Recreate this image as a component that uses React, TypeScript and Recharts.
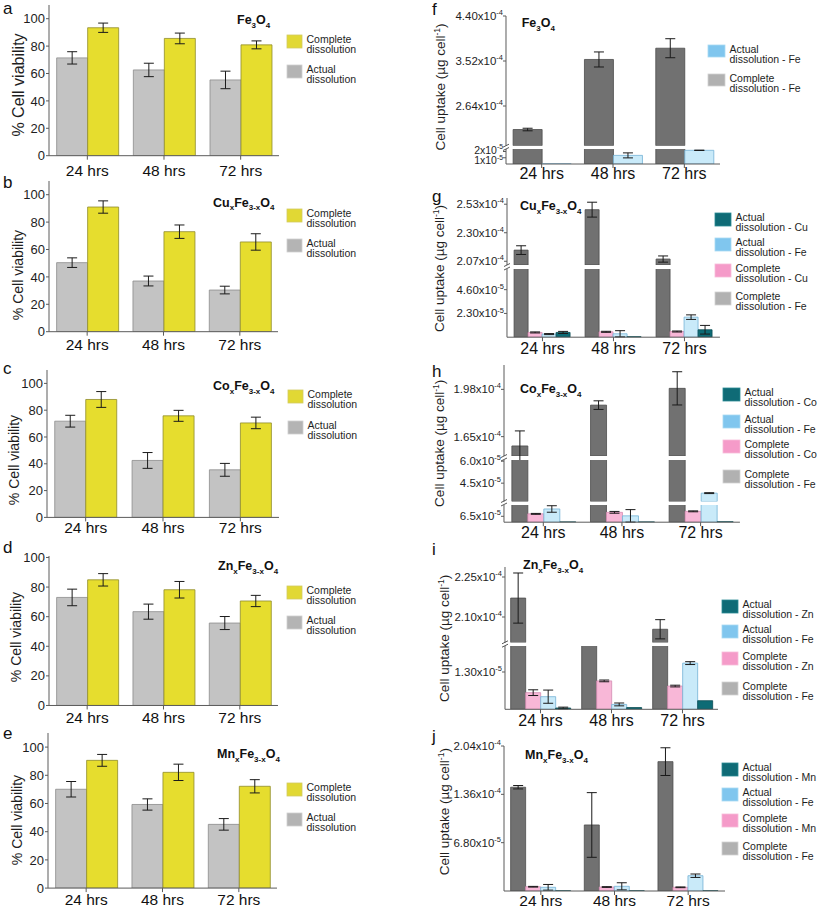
import { BarChart, Bar, XAxis, YAxis, ErrorBar } from "recharts"

const FONT = '"Liberation Sans", Arial, Helvetica, sans-serif'

const hours = ["24 hrs", "48 hrs", "72 hrs"]

// % cell viability, panels a-e
const viabilityTicks = [0, 20, 40, 60, 80, 100]

const aActual = [71.4, 62.6, 55.3]
const aActualErr = [4.5, 4.9, 6.4]
const aComplete = [93.4, 85.6, 80.9]
const aCompleteErr = [3.4, 3.9, 2.9]

const bActual = [50.4, 37.0, 30.4]
const bActualErr = [3.5, 3.6, 2.8]
const bComplete = [91.0, 73.0, 65.5]
const bCompleteErr = [4.5, 4.9, 6.0]

const cActual = [71.8, 42.5, 35.5]
const cActualErr = [4.4, 5.9, 4.8]
const cComplete = [88.0, 75.8, 70.5]
const cCompleteErr = [5.9, 4.1, 4.3]

const dActual = [73.0, 63.4, 55.7]
const dActualErr = [5.6, 5.1, 4.4]
const dComplete = [84.9, 78.2, 70.6]
const dCompleteErr = [4.2, 5.6, 3.8]

const eActual = [70.1, 59.3, 45.2]
const eActualErr = [5.5, 4.0, 4.1]
const eComplete = [90.6, 82.1, 72.2]
const eCompleteErr = [4.2, 5.8, 4.7]

// cell uptake (µg cell-1), panels f-j
const fCompleteFe = [2.18e-4, 3.55e-4, 3.77e-4]
const fCompleteFeErr = [0.025e-4, 0.147e-4, 0.186e-4]
const fActualFe = [0.03e-5, 1.38e-5, 2.19e-5]
const fActualFeErr = [0, 0.4e-5, 0.03e-5]
const fUpperTicks = [2.64e-4, 3.52e-4, 4.4e-4]
const fUpperLabels = [["2.64", "-4"], ["3.52", "-4"], ["4.40", "-4"]]
const fLowerTicks = [1e-5, 2e-5]
const fLowerLabels = [["1", "-5"], ["2", "-5"]]

const gCompleteFe = [2.16e-4, 2.486e-4, 2.088e-4]
const gCompleteFeErr = [0.035e-4, 0.06e-4, 0.025e-4]
const gCompleteCu = [0.46e-5, 0.52e-5, 0.55e-5]
const gCompleteCuErr = [0.05e-5, 0.05e-5, 0.05e-5]
const gActualFe = [0.3e-5, 0.33e-5, 1.94e-5]
const gActualFeErr = [0.05e-5, 0.3e-5, 0.22e-5]
const gActualCu = [0.46e-5, 0.05e-5, 0.72e-5]
const gActualCuErr = [0.1e-5, 0, 0.42e-5]
const gUpperTicks = [2.07e-4, 2.3e-4, 2.53e-4]
const gUpperLabels = [["2.07", "-4"], ["2.30", "-4"], ["2.53", "-4"]]
const gLowerTicks = [2.3e-5, 4.6e-5]
const gLowerLabels = [["2.30", "-5"], ["4.60", "-5"]]

const hCompleteFe = [1.585e-4, 1.87e-4, 1.987e-4]
const hCompleteFeErr = [0.105e-4, 0.03e-4, 0.116e-4]
const hCompleteCo = [0.92e-5, 1.09e-5, 1.2e-5]
const hCompleteCoErr = [0.05e-5, 0.1e-5, 0.05e-5]
const hActualFe = [1.46e-5, 0.7e-5, 3.82e-5]
const hActualFeErr = [0.36e-5, 0.69e-5, 0.03e-5]
const hActualCo = [0.03e-5, 0.03e-5, 0.05e-5]
const hActualCoErr = [0, 0, 0]
const hUpperTicks = [1.65e-4, 1.98e-4]
const hUpperLabels = [["1.65", "-4"], ["1.98", "-4"]]
const hMiddleTicks = [4.5e-5, 6.0e-5]
const hMiddleLabels = [["4.5", "-5"], ["6.0", "-5"]]
const hLowerTicks = [6.5e-6]
const hLowerLabels = [["6.5", "-5"]]

const iCompleteFe = [2.171e-4, 1.5e-4, 2.054e-4]
const iCompleteFeErr = [0.094e-4, 0, 0.036e-4]
const iCompleteZn = [0.58e-5, 0.99e-5, 0.81e-5]
const iCompleteZnErr = [0.1e-5, 0.03e-5, 0.03e-5]
const iActualFe = [0.44e-5, 0.17e-5, 1.61e-5]
const iActualFeErr = [0.23e-5, 0.05e-5, 0.05e-5]
const iActualZn = [0.045e-5, 0.06e-5, 0.3e-5]
const iActualZnErr = [0.03e-5, 0, 0]
const iUpperTicks = [2.1e-4, 2.25e-4]
const iUpperLabels = [["2.10", "-4"], ["2.25", "-4"]]
const iLowerTicks = [1.3e-5]
const iLowerLabels = [["1.30", "-5"]]

const jCompleteFe = [1.46e-4, 0.929e-4, 1.82e-4]
const jCompleteFeErr = [0.024e-4, 0.455e-4, 0.195e-4]
const jCompleteMn = [0.06e-4, 0.056e-4, 0.052e-4]
const jCompleteMnErr = [0.005e-4, 0.005e-4, 0.005e-4]
const jActualFe = [0.052e-4, 0.066e-4, 0.215e-4]
const jActualFeErr = [0.04e-4, 0.05e-4, 0.024e-4]
const jActualMn = [0.003e-4, 0.003e-4, 0.003e-4]
const jActualMnErr = [0, 0, 0]
const jTicks = [6.8e-5, 1.36e-4, 2.04e-4]
const jLabels = [["6.80", "-5"], ["1.36", "-4"], ["2.04", "-4"]]

const COL = {
  viaGray: "#c3c3c3",
  viaGrayEdge: "#8c8c8c",
  viaYellow: "#e6dd2e",
  viaYellowEdge: "#8f8b2c",
  upGray: "#717171",
  upGrayEdge: "#4c4c4c",
  pink: "#f8b7d7",
  pinkEdge: "#d48db2",
  blue: "#c9eaf9",
  blueEdge: "#74b3d5",
  teal: "#0d6b75",
  tealEdge: "#0a4b53",
  axis: "#5a5a5a",
  text: "#1e1e1e",
}

const FE3O4 = [["Fe", 0], ["3", 1], ["O", 0], ["4", 1]]
const mixed = (m: string) => [[m, 0], ["x", 1], ["Fe", 0], ["3-x", 1], ["O", 0], ["4", 1]]

type Series = { key: string; values: number[]; errors: number[]; fill: string; stroke: string }
type Seg = {
  top: number
  bottom: number
  domain: [number, number]
  ticks: number[]
  labels?: string[][]
  labelDy?: number[]
  fontSize?: number
}

function segRows(series: Series[], seg: Seg) {
  const [lo, hi] = seg.domain
  return hours.map((hour, i) => {
    const row: any = { hour }
    series.forEach((s) => {
      const v = s.values[i]
      row[s.key] = v > lo ? v : null
      row[s.key + "Err"] = v > lo && v <= hi && s.errors[i] > 0 ? s.errors[i] : undefined
    })
    return row
  })
}

function SciTick({ x, y, payload, seg }: any) {
  const i = seg.ticks.findIndex((t: number) => Math.abs(t - payload.value) < 1e-12)
  const lab = seg.labels[i]
  if (!lab) return null
  const fs = seg.fontSize || 11.5
  const shift = seg.labelDy ? seg.labelDy[i] : 0
  return (
    <text x={x} y={y + shift} dy={fs * 0.35} textAnchor="end" fontSize={fs} fontFamily={FONT} fill={COL.text}>
      {lab[0]}x10
      <tspan dy={-fs * 0.43} fontSize={fs * 0.65}>{lab[1]}</tspan>
    </text>
  )
}

function SegChart({ seg, series, axisX, right, gap, last, tickGap, xFont }: any) {
  const mt = 12
  const mb = last ? 0 : 4
  const xh = last ? 30 : 0
  const plotH = seg.bottom - seg.top
  return (
    <div style={{ position: "absolute", left: 0, top: seg.top - mt }}>
      <BarChart
        width={right + 12}
        height={mt + plotH + xh + mb}
        data={segRows(series, seg)}
        margin={{ top: mt, right: 12, bottom: mb, left: 0 }}
        barGap={0}
        barCategoryGap={gap}
      >
        <XAxis
          dataKey="hour"
          hide={!last}
          height={xh}
          tickSize={4}
          tickMargin={tickGap - 4}
          axisLine={{ stroke: COL.axis }}
          tickLine={{ stroke: COL.axis }}
          tick={{ fill: "#111", fontSize: xFont, fontFamily: FONT }}
          interval={0}
        />
        <YAxis
          type="number"
          width={axisX}
          domain={seg.domain}
          allowDataOverflow
          ticks={seg.ticks}
          interval={0}
          tickSize={3}
          tickMargin={seg.labels ? 0 : 1}
          axisLine={{ stroke: COL.axis }}
          tickLine={{ stroke: COL.axis }}
          tick={seg.labels ? (p: any) => <SciTick {...p} seg={seg} /> : { fill: COL.text, fontSize: 13, fontFamily: FONT }}
        />
        {series.map((s: Series) => (
          <Bar key={s.key} dataKey={s.key} fill={s.fill} stroke={s.stroke} strokeWidth={0.8} isAnimationActive={false}>
            <ErrorBar dataKey={s.key + "Err"} width={5} strokeWidth={1} stroke="#1a1a1a" direction="y" />
          </Bar>
        ))}
      </BarChart>
    </div>
  )
}

function Formula({ x, y, parts }: any) {
  let sub = 0
  return (
    <text x={x} y={y} fontWeight="bold" fontSize={12.5} fontFamily={FONT} fill="#111">
      {parts.map(([t, s]: any, i: number) => {
        const dy = s === sub ? 0 : s ? 3.5 : -3.5
        sub = s
        return (
          <tspan key={i} dy={dy} fontSize={s ? 8 : 12.5}>
            {t}
          </tspan>
        )
      })}
    </text>
  )
}

function LegendBlock({ x, tops, items, sw, sh }: any) {
  return (
    <g>
      {items.map((it: any, i: number) => (
        <g key={i}>
          <rect x={x} y={tops[i]} width={sw} height={sh} fill={it.fill} stroke={it.stroke} strokeWidth={0.8} />
          <text x={x + sw + 4.5} y={tops[i] + 7.6} fontSize={10.5} fontFamily={FONT} fill={COL.text}>
            {it.lines[0]}
          </text>
          <text x={x + sw + 4.5} y={tops[i] + 18.2} fontSize={10.5} fontFamily={FONT} fill={COL.text}>
            {it.lines[1]}
          </text>
        </g>
      ))}
    </g>
  )
}

const viaLegend = [
  { lines: ["Complete", "dissolution"], fill: "#e1d834", stroke: "#d2cb62" },
  { lines: ["Actual", "dissolution"], fill: "#b4b4b4", stroke: "#d0d0d0" },
]

const viabilityPanels = [
  { letter: "a", formula: FE3O4, actual: aActual, actualErr: aActualErr, complete: aComplete, completeErr: aCompleteErr, axisX: 49, right: 279, y0: 156, y100: 19, max: 110, tickGap: 9, letterY: 13.5, labelX: 18, labelY: 85, labelSize: 16, titleX: 237, titleY: 24, legendX: 287, legendTops: [35, 65] },
  { letter: "b", formula: mixed("Cu"), actual: bActual, actualErr: bActualErr, complete: bComplete, completeErr: bCompleteErr, axisX: 49, right: 278, y0: 332, y100: 195, max: 110, tickGap: 7, letterY: 188, labelX: 18.5, labelY: 275, labelSize: 14, titleX: 213, titleY: 206.5, legendX: 287, legendTops: [209, 239] },
  { letter: "c", formula: mixed("Co"), actual: cActual, actualErr: cActualErr, complete: cComplete, completeErr: cCompleteErr, axisX: 47, right: 279, y0: 517, y100: 383, max: 110, tickGap: 4.5, letterY: 374, labelX: 14, labelY: 460, labelSize: 14, titleX: 213, titleY: 390, legendX: 288, legendTops: [390, 421] },
  { letter: "d", formula: mixed("Zn"), actual: dActual, actualErr: dActualErr, complete: dComplete, completeErr: dCompleteErr, axisX: 49, right: 278, y0: 705, y100: 557, max: 101, tickGap: 6.7, letterY: 553, labelX: 16, labelY: 637, labelSize: 14, titleX: 218, titleY: 570, legendX: 287, legendTops: [586, 616] },
  { letter: "e", formula: mixed("Mn"), actual: eActual, actualErr: eActualErr, complete: eComplete, completeErr: eCompleteErr, axisX: 48, right: 277, y0: 888, y100: 747, max: 110, tickGap: 6.2, letterY: 739, labelX: 17.5, labelY: 820, labelSize: 14, titleX: 217, titleY: 758, legendX: 287, legendTops: [783, 813] },
]

function ViabilityPanel({ p }: any) {
  const seg: Seg = {
    top: p.y0 - ((p.y0 - p.y100) * p.max) / 100,
    bottom: p.y0,
    domain: [0, p.max],
    ticks: viabilityTicks,
  }
  const series: Series[] = [
    { key: "actual", values: p.actual, errors: p.actualErr, fill: COL.viaGray, stroke: COL.viaGrayEdge },
    { key: "complete", values: p.complete, errors: p.completeErr, fill: COL.viaYellow, stroke: COL.viaYellowEdge },
  ]
  return (
    <>
      <SegChart seg={seg} series={series} axisX={p.axisX} right={p.right} gap="10%" last tickGap={p.tickGap} xFont={15.5} />
      <svg width={817} height={908} style={{ position: "absolute", left: 0, top: 0, pointerEvents: "none" }}>
        <text x={3} y={p.letterY} fontSize={17} fontFamily={FONT} fill="#111">{p.letter}</text>
        <text transform={`translate(${p.labelX},${p.labelY}) rotate(-90)`} textAnchor="middle" dy="0.35em" fontSize={p.labelSize} fontFamily={FONT} fill={COL.text}>
          % Cell viability
        </text>
        <Formula x={p.titleX} y={p.titleY} parts={p.formula} />
        <LegendBlock x={p.legendX} tops={p.legendTops} items={viaLegend} sw={15} sh={13} />
      </svg>
    </>
  )
}

const swTeal = { fill: "#0f6b76", stroke: "#2a8a95" }
const swBlue = { fill: "#80c6ee", stroke: "#a9d9f3" }
const swPink = { fill: "#f59bc9", stroke: "#f7bcd9" }
const swGray = { fill: "#b1b1b1", stroke: "#d2d2d2" }

function uptakeSeries(cFe: number[], cFeE: number[], cM: number[] | null, cME: number[] | null, aFe: number[], aFeE: number[], aM: number[] | null, aME: number[] | null): Series[] {
  const s: Series[] = [{ key: "completeFe", values: cFe, errors: cFeE, fill: COL.upGray, stroke: COL.upGrayEdge }]
  if (cM && cME) s.push({ key: "completeM", values: cM, errors: cME, fill: COL.pink, stroke: COL.pinkEdge })
  s.push({ key: "actualFe", values: aFe, errors: aFeE, fill: COL.blue, stroke: COL.blueEdge })
  if (aM && aME) s.push({ key: "actualM", values: aM, errors: aME, fill: COL.teal, stroke: COL.tealEdge })
  return s
}

const metalLegend = (m: string) => [
  { lines: ["Actual", "dissolution - " + m], ...swTeal },
  { lines: ["Actual", "dissolution - Fe"], ...swBlue },
  { lines: ["Complete", "dissolution - " + m], ...swPink },
  { lines: ["Complete", "dissolution - Fe"], ...swGray },
]

const uptakePanels = [
  {
    letter: "f", formula: FE3O4, axisX: 506, right: 720, gap: "10%", tickGap: 4,
    series: uptakeSeries(fCompleteFe, fCompleteFeErr, null, null, fActualFe, fActualFeErr, null, null),
    segs: [
      { top: 16, bottom: 145.7, domain: [1.864e-4, 4.4e-4], ticks: fUpperTicks, labels: fUpperLabels },
      { top: 149, bottom: 164, domain: [0, 2.4e-5], ticks: fLowerTicks, labels: fLowerLabels, labelDy: [2.8, -1.2], fontSize: 10.5 },
    ],
    letterY: 15, labelX: 440.5, labelY: 87, titleX: 521.7, titleY: 27.3,
    legendX: 708, legendTops: [45, 74], sw: 17, sh: 12,
    legend: [{ lines: ["Actual", "dissolution - Fe"], ...swBlue }, { lines: ["Complete", "dissolution - Fe"], ...swGray }],
  },
  {
    letter: "g", formula: mixed("Cu"), axisX: 507, right: 720, gap: "10%", tickGap: 5,
    series: uptakeSeries(gCompleteFe, gCompleteFeErr, gCompleteCu, gCompleteCuErr, gActualFe, gActualFeErr, gActualCu, gActualCuErr),
    segs: [
      { top: 198, bottom: 265, domain: [2.04e-4, 2.58e-4], ticks: gUpperTicks, labels: gUpperLabels },
      { top: 268.5, bottom: 336.7, domain: [0, 6.6e-5], ticks: gLowerTicks, labels: gLowerLabels },
    ],
    letterY: 201.5, labelX: 439, labelY: 268.5, titleX: 520, titleY: 210,
    legendX: 715, legendTops: [213, 238, 264, 292], sw: 16, sh: 13, legend: metalLegend("Cu"),
  },
  {
    letter: "h", formula: mixed("Co"), axisX: 504, right: 740, gap: "10%", tickGap: 4,
    series: uptakeSeries(hCompleteFe, hCompleteFeErr, hCompleteCo, hCompleteCoErr, hActualFe, hActualFeErr, hActualCo, hActualCoErr),
    segs: [
      { top: 365, bottom: 456, domain: [1.515e-4, 2.15e-4], ticks: hUpperTicks, labels: hUpperLabels },
      { top: 459.5, bottom: 501, domain: [3.25e-5, 6.08e-5], ticks: hMiddleTicks, labels: hMiddleLabels },
      { top: 504.5, bottom: 521.7, domain: [0, 1.9e-5], ticks: hLowerTicks, labels: hLowerLabels },
    ],
    letterY: 376.5, labelX: 439, labelY: 443.3, titleX: 520, titleY: 393.3,
    legendX: 723, legendTops: [388, 415, 440, 470], sw: 17, sh: 13, legend: metalLegend("Co"),
  },
  {
    letter: "i", formula: mixed("Zn"), axisX: 505, right: 718, gap: "8%", tickGap: 5,
    series: uptakeSeries(iCompleteFe, iCompleteFeErr, iCompleteZn, iCompleteZnErr, iActualFe, iActualFeErr, iActualZn, iActualZnErr),
    segs: [
      { top: 566.7, bottom: 642.3, domain: [2.004e-4, 2.2875e-4], ticks: iUpperTicks, labels: iUpperLabels },
      { top: 645.7, bottom: 709, domain: [0, 2.206e-5], ticks: iLowerTicks, labels: iLowerLabels },
    ],
    letterY: 555, labelX: 444, labelY: 638.3, titleX: 523, titleY: 569,
    legendX: 722, legendTops: [600, 625, 652, 682], sw: 16, sh: 13, legend: metalLegend("Zn"),
  },
  {
    letter: "j", formula: mixed("Mn"), axisX: 504, right: 725, gap: "9%", tickGap: 4,
    series: uptakeSeries(jCompleteFe, jCompleteFeErr, jCompleteMn, jCompleteMnErr, jActualFe, jActualFeErr, jActualMn, jActualMnErr),
    segs: [{ top: 746, bottom: 891, domain: [0, 2.04e-4], ticks: jTicks, labels: jLabels }],
    letterY: 742, labelX: 444, labelY: 811.7, titleX: 525, titleY: 759,
    legendX: 722, legendTops: [763, 788, 814, 842], sw: 16, sh: 13, legend: metalLegend("Mn"),
  },
]

function UptakePanel({ p }: any) {
  const n = p.segs.length
  return (
    <>
      {p.segs.map((seg: Seg, i: number) => (
        <SegChart key={i} seg={seg} series={p.series} axisX={p.axisX} right={p.right} gap={p.gap} last={i === n - 1} tickGap={p.tickGap} xFont={p.letter === "j" ? 15.5 : 16} />
      ))}
      <svg width={817} height={908} style={{ position: "absolute", left: 0, top: 0, pointerEvents: "none" }}>
        <text x={432} y={p.letterY} fontSize={17} fontFamily={FONT} fill="#111">{p.letter}</text>
        <text transform={`translate(${p.labelX},${p.labelY}) rotate(-90)`} textAnchor="middle" dy="0.35em" fontSize={13.5} fontFamily={FONT} fill={COL.text}>
          Cell uptake (µg cell
          <tspan dy={-5} fontSize={8.5}>-1</tspan>
          <tspan dy={5}>)</tspan>
        </text>
        <Formula x={p.titleX} y={p.titleY} parts={p.formula} />
        <LegendBlock x={p.legendX} tops={p.legendTops} items={p.legend} sw={p.sw} sh={p.sh} />
        {p.segs.slice(0, -1).map((seg: Seg, i: number) => {
          const next = p.segs[i + 1]
          return (
            <g key={i} stroke="#444" strokeWidth={0.9}>
              <line x1={p.axisX - 3} y1={seg.bottom + 1.5} x2={p.axisX + 3} y2={seg.bottom - 1.5} />
              <line x1={p.axisX - 3} y1={next.top + 1.5} x2={p.axisX + 3} y2={next.top - 1.5} />
            </g>
          )
        })}
      </svg>
    </>
  )
}

export default function App() {
  return (
    <div style={{ position: "absolute", left: 0, top: 0, width: 817, height: 908, background: "#fff", overflow: "hidden" }}>
      {viabilityPanels.map((p) => (
        <ViabilityPanel key={p.letter} p={p} />
      ))}
      {uptakePanels.map((p) => (
        <UptakePanel key={p.letter} p={p} />
      ))}
    </div>
  )
}
